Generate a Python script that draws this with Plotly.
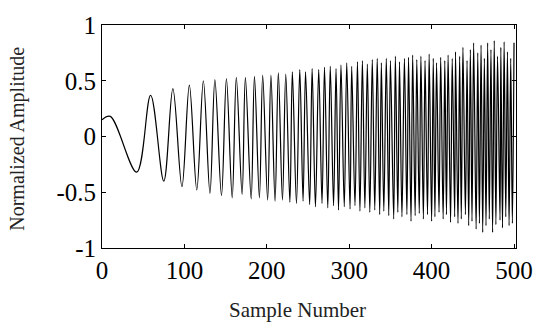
import plotly.graph_objects as go

# Start of the record (sample, value)
start_n = [0]
start_v = [0.15]

# Positive peaks (sample number, normalized amplitude)
peak_n = [10, 59, 86, 106, 123, 137, 151, 163, 174, 185, 195, 205, 214, 223, 231, 240,
          247, 255, 263, 270, 277, 284, 290, 297, 303, 310, 316, 322, 328, 334, 339, 345,
          350, 356, 361, 367, 372, 377, 382, 387, 392, 397, 402, 406, 411, 416, 420, 425,
          429, 434, 438, 443, 447, 451, 456, 460, 464, 468, 472, 476, 480, 484, 488, 492,
          496, 500]
peak_v = [0.18, 0.37, 0.43, 0.46, 0.50, 0.51, 0.52, 0.53, 0.53, 0.54, 0.55, 0.55, 0.57, 0.56,
          0.58, 0.60, 0.58, 0.61, 0.60, 0.62, 0.63, 0.61, 0.64, 0.66, 0.63, 0.67, 0.68, 0.65,
          0.69, 0.70, 0.66, 0.70, 0.68, 0.72, 0.67, 0.70, 0.71, 0.73, 0.69, 0.72, 0.68, 0.74,
          0.70, 0.66, 0.71, 0.68, 0.73, 0.70, 0.76, 0.72, 0.80, 0.68, 0.78, 0.84, 0.75, 0.82,
          0.70, 0.84, 0.78, 0.86, 0.72, 0.80, 0.85, 0.76, 0.70, 0.84]

# Negative troughs
trough_n = [42, 75, 97, 115, 131, 145, 158, 170, 181, 191, 201, 210, 219, 228, 236, 244,
            252, 259, 267, 274, 281, 287, 294, 301, 307, 313, 319, 325, 331, 337, 342, 348,
            354, 359, 364, 370, 375, 380, 385, 390, 395, 400, 404, 409, 414, 418, 423, 428,
            432, 436, 441, 445, 449, 454, 458, 462, 466, 470, 474, 478, 483, 486, 490, 494,
            498]
trough_v = [-0.32, -0.40, -0.45, -0.48, -0.51, -0.53, -0.55, -0.52, -0.56, -0.55, -0.57,
            -0.58, -0.57, -0.59, -0.60, -0.58, -0.61, -0.63, -0.60, -0.64, -0.62, -0.66,
            -0.63, -0.65, -0.62, -0.67, -0.64, -0.68, -0.66, -0.70, -0.67, -0.71, -0.74,
            -0.68, -0.72, -0.70, -0.76, -0.71, -0.69, -0.74, -0.70, -0.76, -0.72, -0.68,
            -0.74, -0.70, -0.77, -0.72, -0.78, -0.74, -0.70, -0.80, -0.76, -0.83, -0.78,
            -0.86, -0.80, -0.74, -0.86, -0.79, -0.75, -0.82, -0.72, -0.80, -0.78]

x_ticks = [0, 100, 200, 300, 400, 500]
y_ticks = [-1, -0.5, 0, 0.5, 1]
y_tick_text = ["-1", "-0.5", "0", "0.5", "1"]

pts = sorted(zip(start_n + peak_n + trough_n, start_v + peak_v + trough_v))
xs = [p[0] for p in pts]
ys = [p[1] for p in pts]

fig = go.Figure()
fig.add_trace(go.Scatter(x=xs, y=ys, mode="lines",
                         line=dict(color="black", width=1.2, shape="spline", smoothing=1.0),
                         hoverinfo="skip", showlegend=False))

font = "Liberation Serif"
axis_common = dict(showline=True, linecolor="black", linewidth=1, mirror="ticks",
                   ticks="inside", ticklen=4, tickcolor="black", showgrid=False,
                   zeroline=False, tickfont=dict(family=font, size=25, color="black"))

fig.update_xaxes(range=[0, 502.4], tickvals=x_ticks, **axis_common)
fig.update_yaxes(range=[-1, 1], tickvals=y_ticks, ticktext=y_tick_text, **axis_common)

fig.add_annotation(text="Sample Number", xref="paper", yref="paper", x=0.472, y=-0.277,
                   xanchor="center", yanchor="middle", showarrow=False,
                   font=dict(family=font, size=21, color="#222"))
fig.add_annotation(text="Normalized Amplitude", xref="paper", yref="paper", x=0, y=0.49,
                   xshift=-84, xanchor="center", yanchor="middle", textangle=-90,
                   showarrow=False, font=dict(family=font, size=20, color="#222"))

fig.update_layout(width=545, height=325, margin=dict(l=102, r=21, t=18, b=77),
                  paper_bgcolor="white", plot_bgcolor="white")

fig.write_html("out.html", config={"displayModeBar": False},
               post_script="document.body.style.margin='0';document.body.style.overflow='hidden';")
